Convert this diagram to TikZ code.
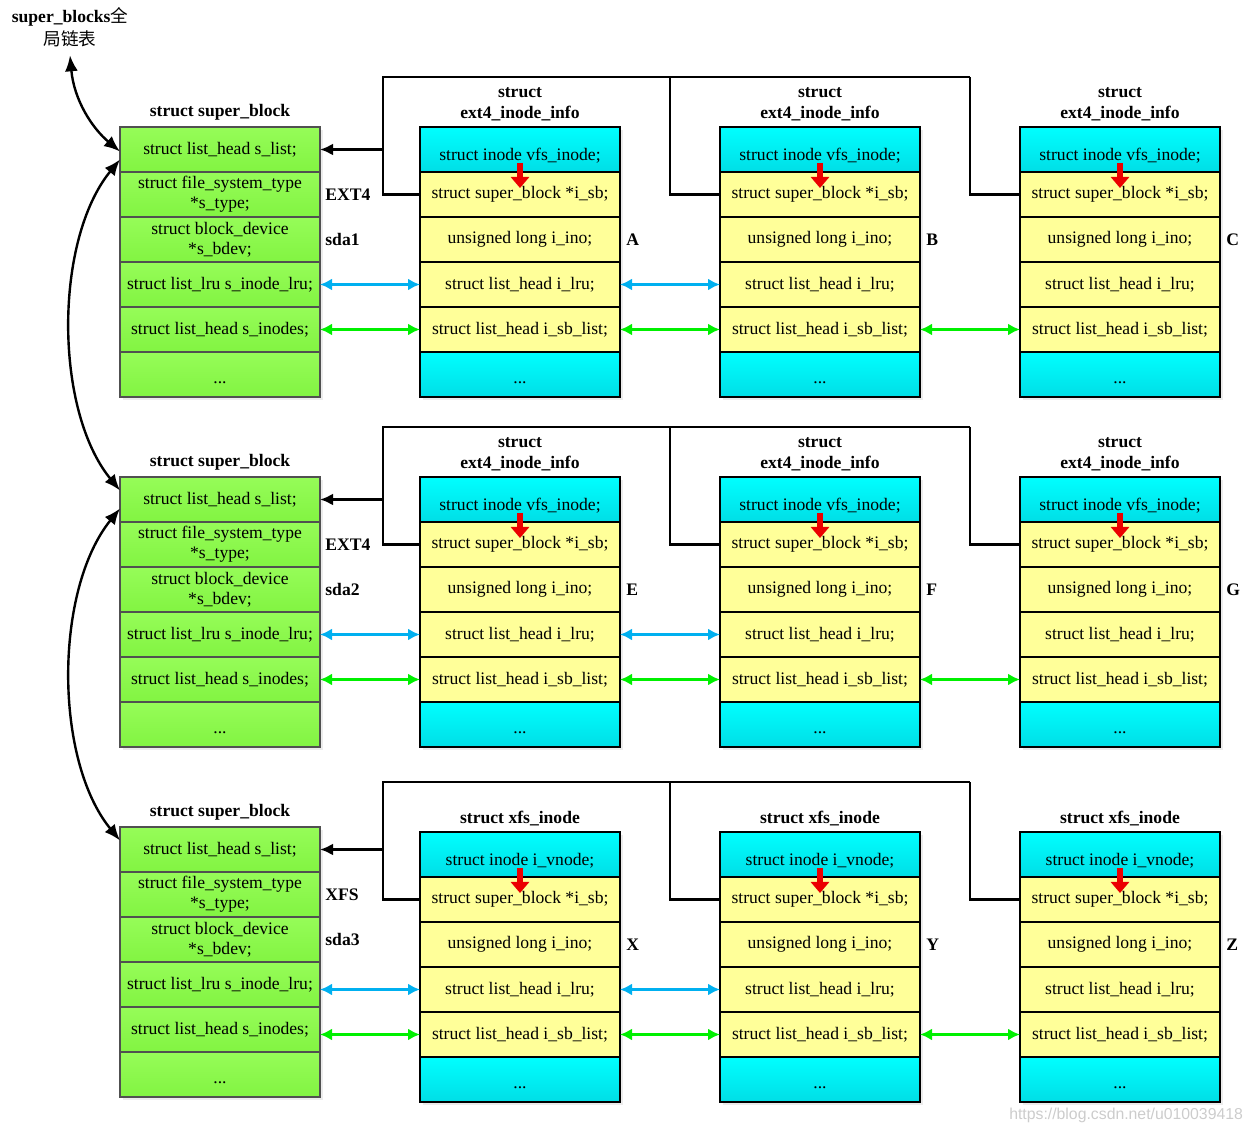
\documentclass[tikz,border=0pt]{standalone}
\usepackage{fontspec}
\setmainfont{Liberation Serif}
\newfontfamily\cjk{Noto Sans CJK SC}
\newfontfamily\wmfont{Liberation Sans}
\usetikzlibrary{arrows.meta,positioning,calc,shadows}
\definecolor{SbGreenTop}{RGB}{150,252,88}
\definecolor{SbGreenBot}{RGB}{130,244,66}
\definecolor{SbEdge}{RGB}{80,80,80}
\definecolor{InYellow}{RGB}{255,255,153}
\definecolor{InCyanTop}{RGB}{0,255,255}
\definecolor{InCyanBot}{RGB}{0,222,230}
\definecolor{LruBlue}{RGB}{0,176,240}
\definecolor{ListGreen}{RGB}{0,240,0}
\definecolor{OwnerRed}{RGB}{235,0,0}
\tikzset{
  vfs/field/.style={
    minimum width=100pt,
    minimum height=22.5pt,
    inner sep=0pt,
    outer sep=0pt,
    align=center,
    line width=0.9pt,
    font=\fontsize{8.8}{10.2}\selectfont,
    drop shadow={shadow xshift=1.5pt,shadow yshift=-1.5pt,fill=black!15}
  },
  vfs/sbfield/.style={vfs/field, draw=SbEdge, top color=SbGreenTop, bottom color=SbGreenBot},
  vfs/infield/.style={vfs/field, draw=black, fill=InYellow},
  vfs/inhead/.style={vfs/field, draw=black, top color=InCyanTop, bottom color=InCyanBot,
    text height=13pt, text depth=2pt},
  vfs/dots/.style={text height=10pt, text depth=1pt},
  vfs/title/.style={font=\fontsize{8.8}{10.2}\selectfont\bfseries, align=center, inner sep=0pt},
  vfs/tag/.style={font=\fontsize{8.8}{10.2}\selectfont\bfseries, inner sep=0pt},
  vfs/link/.style={line width=1.4pt, draw=black},
  vfs/linkarrow/.style={vfs/link, -{Latex[length=6.5pt,width=6pt]}},
  vfs/lru/.style={{Latex[length=6pt,width=6pt]}-{Latex[length=6pt,width=6pt]}, line width=1.5pt, draw=LruBlue},
  vfs/sblist/.style={{Latex[length=6pt,width=6pt]}-{Latex[length=6pt,width=6pt]}, line width=1.5pt, draw=ListGreen},
  vfs/owner/.style={-{Triangle[length=5.5pt,width=9pt]}, line width=3.2pt, draw=OwnerRed},
  vfs/global/.style={{Latex[length=8pt,width=6.5pt]}-{Latex[length=8pt,width=6.5pt]}, line width=1.2pt, draw=black}
}

\begin{document}
\begin{tikzpicture}[x=0.5pt,y=-0.5pt]
  \useasboundingbox (0,0) rectangle (1260,1133);

  % global list label
  \node[vfs/title] (sbs) at (70,27) {super\_blocks{\cjk\mdseries 全}\\[1.5pt]{\cjk\mdseries 局链表}};

  \foreach \g/\sy/\iy/\fs/\dev/\la/\lb/\lc/\hd/\ttl in {
      1/127/127/EXT4/sda1/A/B/C/vfs\_inode/{struct\\ext4\_inode\_info},
      2/477/477/EXT4/sda2/E/F/G/vfs\_inode/{struct\\ext4\_inode\_info},
      3/827/832/XFS/sda3/X/Y/Z/i\_vnode/{struct xfs\_inode}} {

    % struct super_block
    \foreach \r/\txt in {1/{struct list\_head s\_list;},
        2/{struct file\_system\_type\\*s\_type;},
        3/{struct block\_device\\*s\_bdev;},
        4/{struct list\_lru s\_inode\_lru;},
        5/{struct list\_head s\_inodes;}}
      \node[vfs/sbfield] (sb\g-\r) at (220,\sy+45*\r-22.5) {\txt};
    \node[vfs/sbfield, vfs/dots] (sb\g-6) at (220,\sy+247.5) {...};
    \node[vfs/title, above=3pt of sb\g-1] (sbt\g) {struct super\_block};
    \node[vfs/tag, right=2.5pt of sb\g-2] (fs\g) {\fs};
    \node[vfs/tag, right=2.5pt of sb\g-3] (dev\g) {\dev};

    % inode columns
    \foreach \c/\cx/\lab in {1/520/\la, 2/820/\lb, 3/1120/\lc} {
      \node[vfs/inhead] (in\g\c-1) at (\cx,\iy+22.5) {struct inode \hd;};
      \foreach \r/\txt in {2/{struct super\_block *i\_sb;},
          3/{unsigned long i\_ino;},
          4/{struct list\_head i\_lru;},
          5/{struct list\_head i\_sb\_list;}}
        \node[vfs/infield] (in\g\c-\r) at (\cx,\iy+45*\r-22.5) {\txt};
      \node[vfs/inhead, vfs/dots] (in\g\c-6) at (\cx,\iy+247.5) {...};
      \node[vfs/title, above=3pt of in\g\c-1] (int\g\c) {\ttl};
      \node[vfs/tag, right=3pt of in\g\c-3] (lab\g\c) {\lab};
      \draw[vfs/owner] ($(in\g\c-1.south)+(0,-9)$) -- ($(in\g\c-2.north)+(0,16)$);
    }

    % i_sb back to s_list
    \coordinate (jn\g-1) at (383,\iy-50);
    \coordinate (jn\g-2) at (670,\iy-50);
    \coordinate (jn\g-3) at (970,\iy-50);
    \draw[vfs/link] (in\g1-2.west) -| (jn\g-1) -- (jn\g-3);
    \draw[vfs/link] (in\g2-2.west) -| (jn\g-2);
    \draw[vfs/link] (in\g3-2.west) -| (jn\g-3);
    \draw[vfs/linkarrow] (sb\g-1.east -| jn\g-1) -- (sb\g-1.east);

    % lru and sb_list links
    \draw[vfs/lru] (in\g1-4.west -| sb\g-4.east) -- (in\g1-4.west);
    \draw[vfs/lru] (in\g1-4.east) -- (in\g2-4.west);
    \draw[vfs/sblist] (in\g1-5.west -| sb\g-5.east) -- (in\g1-5.west);
    \draw[vfs/sblist] (in\g1-5.east) -- (in\g2-5.west);
    \draw[vfs/sblist] (in\g2-5.east) -- (in\g3-5.west);
  }

  % super_blocks chain
  \draw[vfs/global] ([yshift=-4pt]sbs.south) .. controls (74,100) and (92,128) .. ($(sb1-1.west)+(0,2)$);
  \draw[vfs/global] ($(sb1-1.west)+(0,10)$) .. controls (54,240) and (54,410) .. ($(sb2-1.west)+(0,-9)$);
  \draw[vfs/global] ($(sb2-1.west)+(0,9)$) .. controls (54,590) and (54,760) .. ($(sb3-1.west)+(0,-9)$);

  \node[font=\wmfont\fontsize{7.9}{10}\selectfont, text=black!20, anchor=east] (wm) at (1250,1115) {https://blog.csdn.net/u010039418};
\end{tikzpicture}
\end{document}
